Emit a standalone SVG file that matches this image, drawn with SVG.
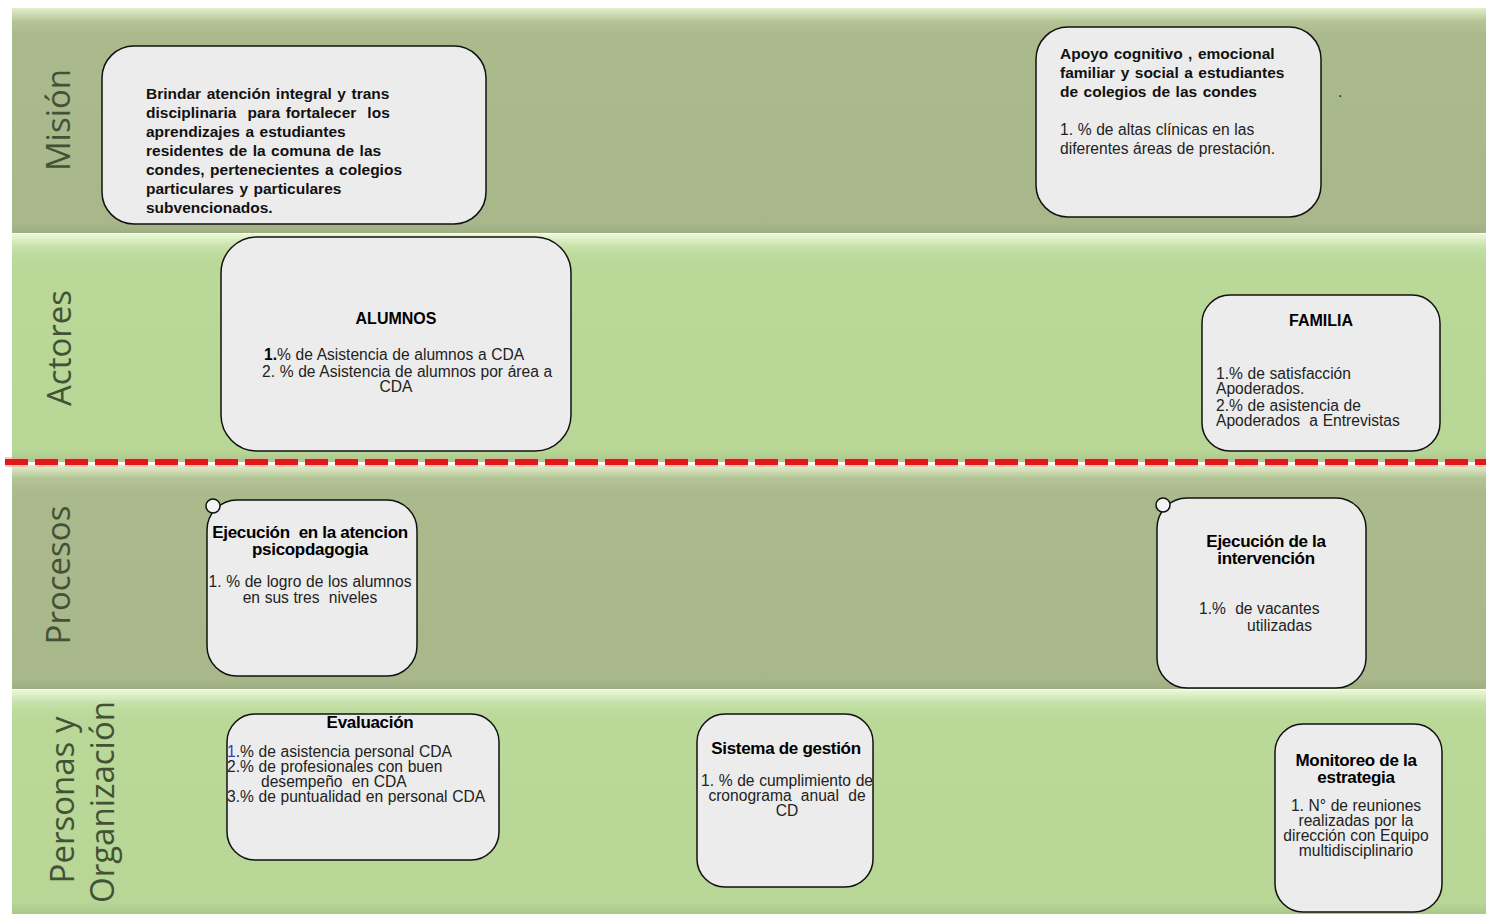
<svg xmlns="http://www.w3.org/2000/svg" width="1486" height="914" viewBox="0 0 1486 914">
<defs>
<linearGradient id="gOlive" x1="0" y1="0" x2="0" y2="1">
<stop offset="0" stop-color="#e4efcc"/>
<stop offset="0.06" stop-color="#b4c496"/>
<stop offset="0.12" stop-color="#aaba8d"/>
<stop offset="0.95" stop-color="#a8b88b"/>
<stop offset="1" stop-color="#9fae84"/>
</linearGradient>
<linearGradient id="gGreen" x1="0" y1="0" x2="0" y2="1">
<stop offset="0" stop-color="#eaf8d8"/>
<stop offset="0.06" stop-color="#c4e0a6"/>
<stop offset="0.12" stop-color="#bad898"/>
<stop offset="0.95" stop-color="#b8d696"/>
<stop offset="1" stop-color="#aac98a"/>
</linearGradient>
</defs>
<style>
.box{fill:#ececec;stroke:#111;stroke-width:1.5}
.lab{font-family:"Open Sans","Noto Sans",sans-serif;font-size:33px;fill:#435237;text-anchor:middle}
.b14{font-family:"Liberation Sans",Arial,sans-serif;font-size:15.5px;font-weight:bold;fill:#111;word-spacing:1.2px}
.n14{font-family:"Liberation Sans",Arial,sans-serif;font-size:15.6px;fill:#222;word-spacing:0.3px}
.h16{font-family:"Liberation Sans",Arial,sans-serif;font-size:16px;font-weight:bold;fill:#000;text-anchor:middle}
.t16{font-family:"Liberation Sans",Arial,sans-serif;font-size:17px;font-weight:bold;fill:#000;letter-spacing:-0.3px;text-anchor:middle}
.c{text-anchor:middle}
</style>
<rect width="1486" height="914" fill="#ffffff"/>
<g id="bands">
<rect x="12" y="8" width="1474" height="225" fill="url(#gOlive)"/>
<rect x="12" y="234" width="1474" height="228" fill="url(#gGreen)"/>
<rect x="12" y="465" width="1474" height="224" fill="url(#gOlive)"/>
<rect x="12" y="690" width="1474" height="224" fill="url(#gGreen)"/>
<text class="lab" transform="translate(70,120) rotate(-90)">Misión</text>
<text class="lab" transform="translate(71,348) rotate(-90)">Actores</text>
<text class="lab" transform="translate(70,575) rotate(-90)">Procesos</text>
<text class="lab" transform="translate(74,800) rotate(-90)">Personas y</text>
<text class="lab" transform="translate(114,802) rotate(-90)">Organización</text>
</g>
<g id="connectors">
<line x1="5" y1="462" x2="1486" y2="462" stroke="#f4a6a6" stroke-width="10" stroke-dasharray="23 7" opacity="0.6"/>
<line x1="5" y1="462" x2="1486" y2="462" stroke="#e01818" stroke-width="6" stroke-dasharray="23 7"/>
</g>
<g id="mision1">
<rect class="box" x="102" y="46" width="384" height="178" rx="32"/>
<text class="b14" x="146" y="99">Brindar atención integral y trans</text>
<text class="b14" x="146" y="118">disciplinaria&#160; para fortalecer&#160; los</text>
<text class="b14" x="146" y="137">aprendizajes a estudiantes</text>
<text class="b14" x="146" y="156">residentes de la comuna de las</text>
<text class="b14" x="146" y="175">condes, pertenecientes a colegios</text>
<text class="b14" x="146" y="194">particulares y particulares</text>
<text class="b14" x="146" y="213">subvencionados.</text>
</g>
<g id="mision2">
<rect class="box" x="1036" y="27" width="285" height="190" rx="32"/>
<text class="b14" x="1060" y="59">Apoyo cognitivo , emocional</text>
<text class="b14" x="1060" y="78">familiar y social a estudiantes</text>
<text class="b14" x="1060" y="97">de colegios de las condes</text>
<text class="n14" x="1060" y="135">1. % de altas clínicas en las</text>
<text class="n14" x="1060" y="154">diferentes áreas de prestación.</text>
<text class="n14" x="1338" y="97">.</text>
</g>
<g id="alumnos">
<rect class="box" x="221" y="237" width="350" height="214" rx="36"/>
<text class="h16" x="396" y="324">ALUMNOS</text>
<text class="n14" x="264" y="360"><tspan font-weight="bold" fill="#000">1.</tspan>% de Asistencia de alumnos a CDA</text>
<text class="n14" x="262" y="377">2. % de Asistencia de alumnos por área a</text>
<text class="n14 c" x="396" y="392">CDA</text>
</g>
<g id="familia">
<rect class="box" x="1202" y="295" width="238" height="156" rx="28"/>
<text class="h16" x="1321" y="326">FAMILIA</text>
<text class="n14" x="1216" y="379">1.% de satisfacción</text>
<text class="n14" x="1216" y="394">Apoderados.</text>
<text class="n14" x="1216" y="411">2.% de asistencia de</text>
<text class="n14" x="1216" y="426">Apoderados&#160; a Entrevistas</text>
</g>
<g id="proceso1">
<rect class="box" x="207" y="500" width="210" height="176" rx="30"/>
<circle cx="213" cy="506" r="7" fill="#f4f4f4" stroke="#111" stroke-width="1.5"/>
<text class="t16" x="310" y="538">Ejecución&#160; en la atencion</text>
<text class="t16" x="310" y="555">psicopdagogia</text>
<text class="n14 c" x="310" y="587">1. % de logro de los alumnos</text>
<text class="n14 c" x="310" y="603">en sus tres&#160; niveles</text>
</g>
<g id="proceso2">
<rect class="box" x="1157" y="498" width="209" height="190" rx="30"/>
<circle cx="1163" cy="505" r="7" fill="#f4f4f4" stroke="#111" stroke-width="1.5"/>
<text class="t16" x="1266" y="547">Ejecución de la</text>
<text class="t16" x="1266" y="564">intervención</text>
<text class="n14" x="1199" y="614" font-size="17.5">1.%&#160; de vacantes</text>
<text class="n14" x="1247" y="631" font-size="17.5">utilizadas</text>
</g>
<g id="evaluacion">
<rect class="box" x="227" y="714" width="272" height="146" rx="28"/>
<text class="t16" x="370" y="728">Evaluación</text>
<text class="n14" x="227" y="757"><tspan fill="#3b3bb0">1</tspan>.% de asistencia personal CDA</text>
<text class="n14" x="227" y="772">2.% de profesionales con buen</text>
<text class="n14" x="261" y="787">desempeño&#160; en CDA</text>
<text class="n14" x="227" y="802">3.% de puntualidad en personal CDA</text>
</g>
<g id="sistema">
<rect class="box" x="697" y="714" width="176" height="173" rx="28"/>
<text class="t16" x="786" y="754">Sistema de gestión</text>
<text class="n14 c" x="787" y="786">1. % de cumplimiento de</text>
<text class="n14 c" x="787" y="801">cronograma&#160; anual&#160; de</text>
<text class="n14 c" x="787" y="816">CD</text>
</g>
<g id="monitoreo">
<rect class="box" x="1275" y="724" width="167" height="188" rx="28"/>
<text class="t16" x="1356" y="766">Monitoreo de la</text>
<text class="t16" x="1356" y="783" font-size="14">estrategia</text>
<text class="n14 c" x="1356" y="811">1. N° de reuniones</text>
<text class="n14 c" x="1356" y="826">realizadas por la</text>
<text class="n14 c" x="1356" y="841">dirección con Equipo</text>
<text class="n14 c" x="1356" y="856">multidisciplinario</text>
</g>
</svg>
